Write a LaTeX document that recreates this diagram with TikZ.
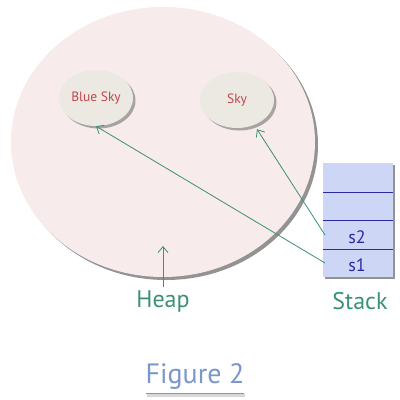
\documentclass[tikz,border=0pt]{standalone}
\usepackage{fontspec}
\setmainfont{PT Sans}
\usetikzlibrary{arrows.meta,shadows,shapes.geometric}
\definecolor{heapfill}{HTML}{F7EBEB}
\definecolor{objfill}{HTML}{ECE9E3}
\definecolor{objtext}{HTML}{C2454F}
\definecolor{linkgreen}{HTML}{3A9175}
\definecolor{stackfill}{HTML}{CED6F6}
\definecolor{stackline}{HTML}{2A2AA0}
\definecolor{figblue}{HTML}{7B97C9}
\tikzset{>/.tip={Straight Barb[length=6pt,width=10pt]},
  obj/.style={ellipse,fill=objfill,minimum width=74pt,minimum height=56pt,inner sep=0pt,
    text=objtext,font=\fontsize{13.5}{15}\selectfont,
    drop shadow={shadow xshift=2.5pt,shadow yshift=-2.5pt,fill=black!55,opacity=0.6}},
  slot/.style={text=stackline,font=\fontsize{18}{20}\selectfont},
  lbl/.style={text=linkgreen,font=\fontsize{24}{26}\selectfont},
  link/.style={->,draw=linkgreen,line width=0.8pt}}

\begin{document}
\begin{tikzpicture}[x=1pt,y=-1pt]
\useasboundingbox (0,0) rectangle (400,400);
\fill[white] (0,0) rectangle (400,400);
\node[ellipse,fill=heapfill,minimum width=304pt,minimum height=270pt,
  drop shadow={shadow xshift=3pt,shadow yshift=-3pt,fill=black!60,opacity=0.7}] (heap) at (163,142) {};
\node[obj] (bluesky) at (96,98)  {Blue Sky};
\node[obj] (sky)     at (237,100) {Sky};
% stack
\node[rectangle,fill=stackfill,minimum width=70pt,minimum height=114pt,inner sep=0pt,
  drop shadow={shadow xshift=2pt,shadow yshift=-2pt,fill=black!60,opacity=0.7}] (stack) at (358,220) {};
\foreach \y in {192,220,249}
{
  \draw[stackline,line width=0.6pt] (323,\y) -- (393,\y);
}
\node[slot] (s2) at (357,237) {s2};
\node[slot] (s1) at (357,265) {s1};
\coordinate (s2in) at (325,235);
\coordinate (s1in) at (325,263);
\draw[link] (s1in) to (bluesky.south);
\draw[link] (s2in) to ([xshift=20pt,yshift=-1pt]sky.south);
% labels
\node[lbl] (heaplbl)  at (163,301) {Heap};
\node[lbl] (stacklbl) at (360,301) {Stack};
\coordinate (heaptip) at (163,246);
\draw[link] (heaplbl.north) to (heaptip);
\node[text=figblue,font=\fontsize{28}{32}\selectfont] (fig) at (195,376) {Figure 2};
\fill[black!15] (147,394) rectangle (245,397);
\draw[figblue,line width=1pt] (146,393) -- (244,393);
\end{tikzpicture}
\end{document}
